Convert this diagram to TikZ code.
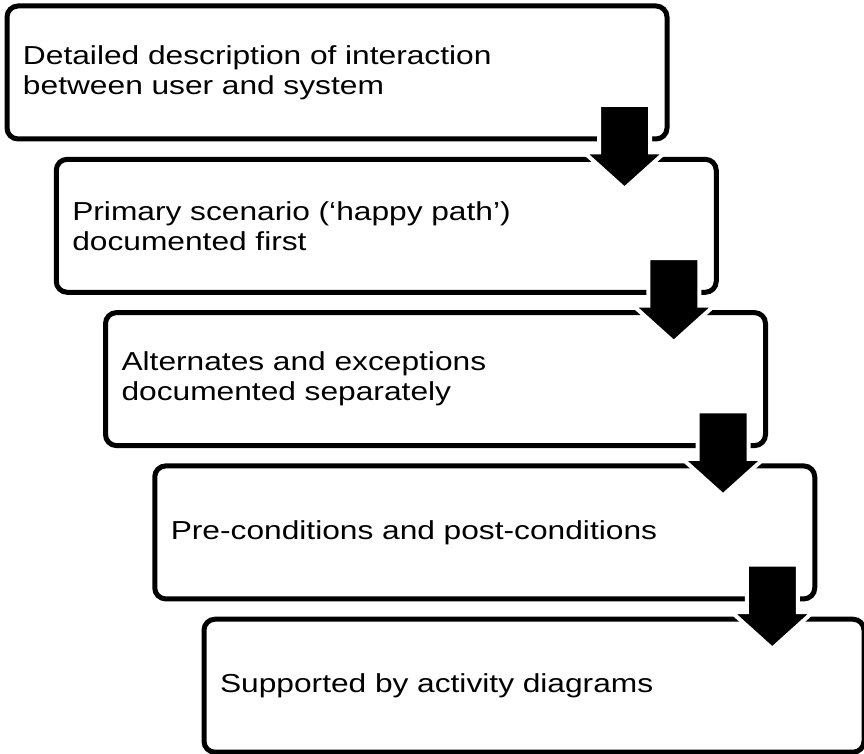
\documentclass[tikz,border=0pt]{standalone}
\usepackage{fontspec}
\setmainfont{Liberation Sans}[FakeStretch=1.22]
\usetikzlibrary{shapes.arrows, calc}

\begin{document}
\begin{tikzpicture}[x=1pt, y=1pt,
    stepbox/.style={draw, line width=5pt, rounded corners=11pt,
        minimum width=660pt, minimum height=133pt, text width=628pt,
        inner xsep=16pt, align=left, font=\fontsize{26}{30}\selectfont},
    downarrow/.style={single arrow, shape border rotate=270, fill=black,
        draw=white, line width=4pt, minimum height=84pt,
        single arrow head extend=15pt, single arrow tip angle=96,
        inner xsep=23.5pt, inner ysep=0pt, anchor=tip}]
    \useasboundingbox (0,0) rectangle (864,-754);
    % the five steps
    \node[stepbox] (detail) at (337,-72.5) {Detailed description of interaction\\between user and system};
    \node[stepbox] (primary) at (386.25,-225.8) {Primary scenario (‘happy path’)\\documented first};
    \node[stepbox] (altern) at (435.5,-379.1) {Alternates and exceptions\\documented separately};
    \node[stepbox] (prepost) at (484.75,-532.4) {Pre-conditions and post-conditions};
    \node[stepbox] (activity) at (534,-685.7) {Supported by activity diagrams};
    % block arrows between steps
    \node[downarrow] (a1) at ($(detail.south east)+(-45,-50)$) {};
    \node[downarrow] (a2) at ($(primary.south east)+(-45,-50)$) {};
    \node[downarrow] (a3) at ($(altern.south east)+(-45,-50)$) {};
    \node[downarrow] (a4) at ($(prepost.south east)+(-45,-50)$) {};
\end{tikzpicture}
\end{document}
